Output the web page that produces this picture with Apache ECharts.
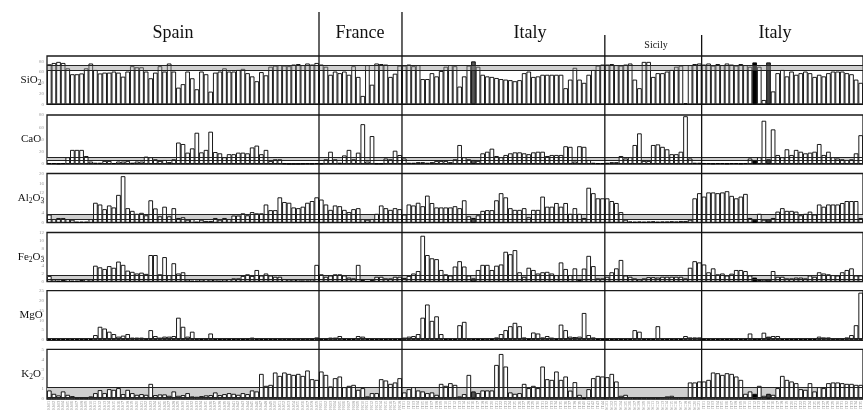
<!DOCTYPE html>
<html>
<head>
<meta charset="utf-8">
<script src="https://cdn.jsdelivr.net/npm/echarts@6/dist/echarts.min.js"></script>
<style>
  html, body { margin: 0; padding: 0; background: #fff; }
  #chart { width: 863px; height: 413px; }
</style>
</head>
<body>
<div id="chart"></div>
<script>
// ---- Sample groups (left to right) ----
const regionNames  = ['Spain', 'France', 'Italy', 'Sicily', 'Italy'];
const regionCodes  = ['ES', 'FR', 'IT', 'SC', 'IT'];
const regionCounts = [59, 18, 44, 21, 35];

// ---- Oxide panels ----
const oxideLabels = ['{a|SiO}{s|2}', '{a|CaO}', '{a|Al}{s|2}{a|O}{s|3}', '{a|Fe}{s|2}{a|O}{s|3}', '{a|MgO}', '{a|K}{s|2}{a|O}'];
const axisMax  = [90, 80, 20, 12, 25, 5];
const axisStep = [20, 20, 4, 2, 5, 1];
// reference range shown as a shaded band in each panel
const bandLow  = [64, 6.5, 1.5, 0.6, 0, 0.15];
const bandHigh = [73, 10.3, 3.3, 1.6, 0.7, 1.2];

// samples drawn with a filled bar
const markedSamples = [92, 153, 156];
const markedFill    = ['#555', '#000', '#444'];

// ---- Concentrations (wt%) ----
const SiO2 = [
  74.5, 77, 79, 77, 67, 56, 56, 57.5, 67, 76,
  64, 57.5, 59, 59, 61, 59, 51.5, 61, 71, 69,
  69, 61, 48.5, 59, 71, 61, 76, 61, 31, 37.5,
  61, 48.5, 28, 61, 56, 23.6, 59, 61, 67, 61,
  61, 64, 66, 58, 52, 43, 60, 54, 70, 72,
  73, 72, 71, 74, 75, 73, 76, 74, 77,
  74, 70, 55, 61, 58, 61, 55, 71, 51, 15.6, 73, 36.5, 76, 75, 74, 51, 57, 72,
  72, 74, 71, 73, 47, 47, 58, 52, 62, 70,
  73, 71, 33, 52, 72, 80, 70, 55, 52, 51,
  49, 47, 46, 45, 43, 45, 58, 61, 51, 52,
  55, 55, 55, 55, 55, 30, 46, 68, 46, 40,
  55, 64, 72, 74,
  74, 75, 73, 72, 74, 76, 46, 30, 79, 79, 51, 58, 58, 61, 64, 70, 72, 2, 73, 75, 76,
  74, 76, 72, 75, 73, 76, 74, 72, 75, 73,
  70, 78, 70, 8, 78, 24, 58, 64, 52, 61,
  55, 58, 61, 58, 51, 55, 52, 58, 61, 61,
  61, 58, 56, 46, 40
];
const CaO = [
  1.5, 1.5, 1, 1.5, 11, 23, 23, 23, 13, 4,
  2, 2, 5, 5, 1.5, 4, 4, 5, 2, 4,
  4, 12, 11, 7.6, 5, 6.5, 3, 7.6, 35, 32.6,
  18.5, 25.5, 51, 19, 23, 52.7, 19.5, 17.4, 11, 16,
  16, 18.5, 18.5, 17.4, 27, 30, 16, 23, 5, 7.6,
  7.6, 1, 0.5, 0.5, 0.5, 0.8, 1, 0.8, 1.5,
  1, 7.6, 20, 7.6, 2, 14, 23, 7.6, 18.5, 65, 4, 45.6, 1, 1, 9, 7.6, 21.7, 14.6,
  9, 2, 2, 3, 3, 2, 3, 5, 5, 5,
  3, 7.6, 31, 11, 7.6, 6.5, 5, 17.4, 20, 25,
  13, 11, 14.7, 17.4, 19, 19, 17.4, 16, 19, 20,
  20, 13, 14.7, 14.7, 14.7, 29, 28, 4, 29, 28,
  6.5, 2, 1.5, 1.5,
  2, 3, 3, 13, 9, 11, 31, 50, 5, 5, 31, 32, 28, 24, 16, 16, 20, 78, 9, 2, 2,
  1.5, 1.5, 1, 1.5, 1.5, 1, 1.5, 1.5, 1, 1.5,
  9, 6.5, 11, 70.6, 7.6, 56.5, 14.7, 11, 24, 14.7,
  23, 20, 17.4, 18.5, 20, 32.6, 14.7, 20, 11, 9,
  7.6, 6.5, 7.6, 17.4, 47
];
const Al2O3 = [
  3.3, 1.45, 1.9, 1.9, 1.45, 1.2, 0.4, 0.4, 0.4, 1.45,
  8.1, 7.4, 5.5, 7, 6.2, 11.3, 18.9, 5.9, 4.8, 3.6,
  4, 3, 9.1, 5.8, 2.6, 6.5, 2.6, 5.9, 1.9, 2.2,
  1.2, 1.45, 0.4, 1.2, 0.7, 0.7, 1.9, 1.2, 1.9, 1.45,
  2.9, 2.9, 3.8, 3, 4.3, 3.8, 3.8, 7.4, 5.1, 5.1,
  10.3, 8.4, 8.1, 6.2, 5.9, 6.5, 8.1, 8.8, 10.3,
  9.4, 7.4, 5.2, 7, 6.7, 5.2, 4.3, 5.5, 5.9, 1.45, 1.2, 1.45, 3.6, 7, 5.9, 5.2, 5.9, 5.5,
  3.3, 7.4, 7, 8.1, 6.7, 11, 8, 6.2, 6.2, 6.2,
  6.2, 6.7, 5.9, 9.1, 2.6, 1.9, 3, 4.8, 5.1, 5.1,
  9.1, 12, 10.3, 5.9, 5.2, 5.2, 5.9, 2.2, 5.2, 5.2,
  10.6, 6.5, 6.5, 8, 6.5, 8, 3.6, 5.9, 3.6, 1.9,
  14.2, 12, 9.9, 9.9,
  9.9, 8.8, 8, 4.3, 1.2, 0.5, 0.4, 0.5, 0.4, 0.5, 0.6, 0.4, 0.5, 0.5, 0.6, 0.5, 0.7, 0.7, 1.2, 9.9, 12,
  10.6, 12.3, 12.3, 12, 12.3, 12.8, 10.9, 9.9, 10.6, 11.7,
  1.9, 1.2, 3.6, 1.2, 1.45, 1.9, 4.5, 5.9, 4.8, 4.8,
  4.5, 3, 3.6, 4.5, 3.3, 7.4, 6.5, 7.4, 7.4, 7.4,
  8, 8.8, 8.8, 8.8, 1.9
];
const Fe2O3 = [
  1.4, 0.57, 0.25, 0.4, 0.65, 0.25, 0.25, 0.4, 0.65, 0.57,
  3.9, 3.5, 3.1, 3.8, 3.4, 4.9, 4.1, 2.7, 2.4, 2,
  2.2, 1.9, 6.5, 6.5, 1.8, 6, 1.6, 4.5, 2, 2.3,
  0.57, 0.25, 0.25, 0.57, 0.65, 0.57, 0.57, 0.25, 0.57, 0.65,
  0.8, 0.8, 1.4, 1.8, 1.4, 2.85, 1.5, 2, 1.5, 1.2,
  1.2, 0.65, 0.57, 0.57, 0.57, 0.3, 0.3, 0.57, 4.1,
  1.8, 1.2, 1.5, 1.8, 1.8, 1.5, 1, 0.8, 4.1, 0.4, 0.15, 0.4, 1.2, 1.2, 0.8, 0.8, 1.2, 1.2,
  0.9, 1.4, 2, 2.6, 11.2, 6.5, 5.7, 5.5, 2.85, 1.8,
  1.5, 3.7, 5, 3.7, 1.5, 0.8, 2.85, 4.1, 4.1, 2.85,
  3.9, 4.2, 7.3, 6.7, 7.7, 2.3, 1.2, 3.4, 2.85, 2,
  2.3, 2.4, 2, 1.6, 4.7, 3.1, 1.6, 3.25, 0.4, 3.2,
  6.3, 3.8, 0.8, 0.8,
  1.2, 2.3, 3.25, 5.3, 1.5, 1.2, 0.8, 0.57, 0.8, 1.1, 1.1, 1, 1.2, 1.2, 1.2, 1.2, 1.2, 0.8, 3.4, 5, 4.7,
  4.2, 2.3, 3.25, 1.8, 2, 1.5, 1.95, 2.85, 2.85, 2.6,
  1.5, 1, 0.4, 0.5, 0.65, 2.6, 1.2, 1.2, 0.8, 0.8,
  1, 1, 0.8, 1.5, 1.2, 2.3, 2, 1.8, 1.6, 1.5,
  2.3, 2.85, 3.25, 1.5, 1.5
];
const MgO = [
  0.5, 0.5, 0.4, 0.5, 0.6, 0.5, 0.5, 0.4, 0.5, 0.5,
  2.5, 6.7, 5.8, 4.2, 3, 1.7, 2.2, 3, 1.2, 1.2,
  1.2, 0.8, 5, 2, 1.2, 1.7, 1.7, 2, 11.3, 6.7,
  1.7, 4.2, 0.8, 0.5, 0.8, 3.3, 0.6, 0.5, 0.6, 0.5,
  0.5, 0.6, 0.5, 0.6, 1.2, 0.6, 0.5, 0.4, 0.5, 0.4,
  0.3, 0.3, 0.3, 0.3, 0.3, 0.3, 0.3, 0.3, 1.3,
  0.6, 0.6, 1.2, 1.2, 2, 0.5, 0.5, 0.5, 2, 1.7, 0.4, 0.4, 0.4, 0.4, 0.4, 0.4, 0.4, 0.4,
  1.2, 1.7, 2, 3, 11.3, 18, 9.7, 12, 3, 0.5,
  0.5, 0.5, 7.5, 9.2, 0.8, 0.5, 0.5, 0.5, 0.8, 0.5,
  1.3, 3, 5, 7, 8.7, 7, 1.3, 0.5, 3.8, 3.3,
  1.3, 2, 1.2, 0.5, 7.8, 5, 1.7, 1.5, 1.7, 13.7,
  2.5, 1.3, 0.5, 0.5,
  0.4, 0.4, 0.4, 0.4, 0.4, 0.4, 5, 4.2, 0.4, 0.4, 0.4, 7, 0.4, 0.4, 0.4, 0.4, 0.4, 2, 1.3, 1.3, 1.3,
  0.4, 0.4, 0.4, 0.4, 0.4, 0.5, 0.4, 0.4, 0.5, 0.4,
  3.3, 0.8, 0.4, 3.7, 1.7, 2, 2, 0.5, 0.5, 0.5,
  0.5, 0.5, 0.5, 0.5, 0.5, 1.7, 1.3, 1.3, 0.8, 0.8,
  0.8, 1.3, 2.5, 7.5, 24
];
const K2O = [
  0.87, 0.53, 0.37, 0.77, 0.43, 0.3, 0.17, 0.17, 0.17, 0.27,
  0.6, 0.9, 0.6, 1, 0.93, 1.1, 0.5, 0.93, 0.6, 0.43,
  0.5, 0.43, 1.53, 0.4, 0.47, 0.47, 0.33, 0.77, 0.33, 0.4,
  0.6, 0.27, 0.23, 0.3, 0.37, 0.4, 0.67, 0.4, 0.5, 0.6,
  0.53, 0.43, 0.6, 0.5, 0.87, 0.77, 2.53, 1.33, 1.43, 2.67,
  2.33, 2.67, 2.53, 2.43, 2.53, 2.33, 2.87, 2, 1.93,
  2.77, 2.43, 1.27, 2.1, 2.27, 1.2, 1.33, 1.43, 0.93, 1.1, 0.27, 0.6, 0.6, 2, 1.87, 1.53, 1.67, 2.1,
  0.67, 1, 1.2, 0.87, 0.77, 0.6, 0.67, 0.43, 1.53, 1.33,
  1.6, 1.43, 0.27, 0.5, 2.43, 0.77, 0.6, 0.87, 0.87, 0.87,
  3.43, 4.53, 3.27, 0.67, 0.53, 0.6, 1.53, 1.1, 1.33, 1.1,
  3.27, 2, 1.93, 2.77, 1.93, 2.27, 0.85, 1.7, 0.43, 0.1,
  1, 2.1, 2.33, 2.27,
  2.2, 2.53, 1.77, 0.33, 0.43, 0.2, 0.17, 0.17, 0.17, 0.17, 0.17, 0.17, 0.2, 0.27, 0.33, 0.2, 0.2, 0.2, 1.67, 1.67, 1.77,
  1.77, 1.93, 2.67, 2.6, 2.43, 2.6, 2.53, 2.27, 1.93, 0.53,
  0.77, 0.53, 1.33, 0.33, 0.53, 0.43, 1.1, 2.33, 1.93, 1.77,
  1.6, 1, 0.93, 1.6, 0.77, 1.2, 1.1, 1.6, 1.67, 1.67,
  1.6, 1.53, 1.53, 1.43, 1.43
];
const oxideValues = [SiO2, CaO, Al2O3, Fe2O3, MgO, K2O];

// sample codes along the bottom axis
const sampleIds = [];
regionCounts.forEach((n, r) => {
  for (let k = 1; k <= n; k++) sampleIds.push(regionCodes[r] + String(k).padStart(2, '0'));
});

// ---- Layout ----
const plotLeft = 47;
const gridTop    = [56, 115, 173.5, 232.5, 290.7, 349.3];
const gridHeight = [48.3, 49, 49.2, 49.2, 49.3, 50];
const serif = '"Liberation Serif", "DejaVu Serif", serif';

const grids = [], xAxes = [], yAxes = [], series = [], graphics = [];

oxideValues.forEach((vals, p) => {
  const last = p === oxideValues.length - 1;
  grids.push({
    left: plotLeft, right: -2, top: gridTop[p], height: gridHeight[p],
    show: true, borderColor: '#1a1a1a', borderWidth: 1.3, backgroundColor: 'transparent'
  });
  xAxes.push({
    type: 'category', gridIndex: p, data: sampleIds,
    axisLine: { show: false }, axisTick: { show: false },
    axisLabel: last ? {
      show: true, interval: 0, rotate: 90, fontSize: 4, color: '#8a8a8a', margin: 2,
      fontFamily: serif
    } : { show: false }
  });
  yAxes.push({
    type: 'value', gridIndex: p, min: 0, max: axisMax[p], interval: axisStep[p],
    splitLine: { show: false }, axisLine: { show: false }, axisTick: { show: false },
    axisLabel: {
      fontSize: 5, color: '#9a9a9a', margin: 3, fontFamily: serif,
      showMaxLabel: axisMax[p] % axisStep[p] === 0
    }
  });
  const onTop = p === 0;
  series.push({
    type: 'bar', xAxisIndex: p, yAxisIndex: p,
    barCategoryGap: 0, barGap: 0,
    silent: true, animation: false,
    itemStyle: { color: '#fff', borderColor: '#000', borderWidth: 0.9 },
    data: vals.map((v, i) => {
      const m = markedSamples.indexOf(i);
      return m < 0 ? v : { value: v, itemStyle: { color: markedFill[m] } };
    }),
    markArea: {
      silent: true, z: onTop ? 3 : 1,
      itemStyle: { color: onTop ? 'rgba(150,150,150,0.45)' : '#cfcfcf' },
      data: [[{ yAxis: bandLow[p] }, { yAxis: bandHigh[p] }]]
    },
    markLine: {
      silent: true, symbol: 'none', z: 5,
      label: { show: false },
      lineStyle: { color: '#222', width: 1, type: 'solid' },
      data: [{ yAxis: bandLow[p] }, { yAxis: bandHigh[p] }]
    }
  });
  // panel name with subscripts, left of the plot
  graphics.push({
    type: 'text', silent: true,
    x: 31, y: gridTop[p] + gridHeight[p] / 2,
    style: {
      text: oxideLabels[p],
      align: 'center', verticalAlign: 'middle',
      rich: {
        a: { fontSize: 11, fontFamily: serif, fill: '#111', lineHeight: 14 },
        s: { fontSize: 7.5, fontFamily: serif, fill: '#111', lineHeight: 14, padding: [6, 0, 0, 0] }
      }
    }
  });
});

const chart = echarts.init(document.getElementById('chart'), null, { renderer: 'canvas' });
chart.setOption({
  animation: false,
  backgroundColor: '#fff',
  grid: grids, xAxis: xAxes, yAxis: yAxes, series: series
});

// ---- Region dividers and headings, placed from the category scale ----
const edgeAt = idx => {
  const a = chart.convertToPixel({ xAxisIndex: 0 }, idx - 1);
  const b = chart.convertToPixel({ xAxisIndex: 0 }, idx);
  return (a + b) / 2;
};
const bottomY = gridTop[5] + gridHeight[5];
const dividerTopY = [12, 12, 35, 35];
let acc = 0;
const dividerX = [];
regionCounts.forEach((n, r) => { acc += n; if (r < regionCounts.length - 1) dividerX.push(edgeAt(acc)); });
dividerX.forEach((x, k) => {
  graphics.push({
    type: 'line', silent: true, z: 10,
    shape: { x1: x, y1: dividerTopY[k], x2: x, y2: bottomY },
    style: { stroke: '#111', lineWidth: 1.3 }
  });
});
const headingX    = [173, 360, 530, 656, 775];
const headingY    = [33, 33, 33, 45, 33];
const headingSize = [18, 18, 18, 10, 18];
regionNames.forEach((name, r) => {
  graphics.push({
    type: 'text', silent: true,
    x: headingX[r], y: headingY[r],
    style: {
      text: name, align: 'center', verticalAlign: 'middle',
      font: headingSize[r] + 'px ' + serif, fill: '#111'
    }
  });
});
chart.setOption({ graphic: graphics });
</script>
</body>
</html>
